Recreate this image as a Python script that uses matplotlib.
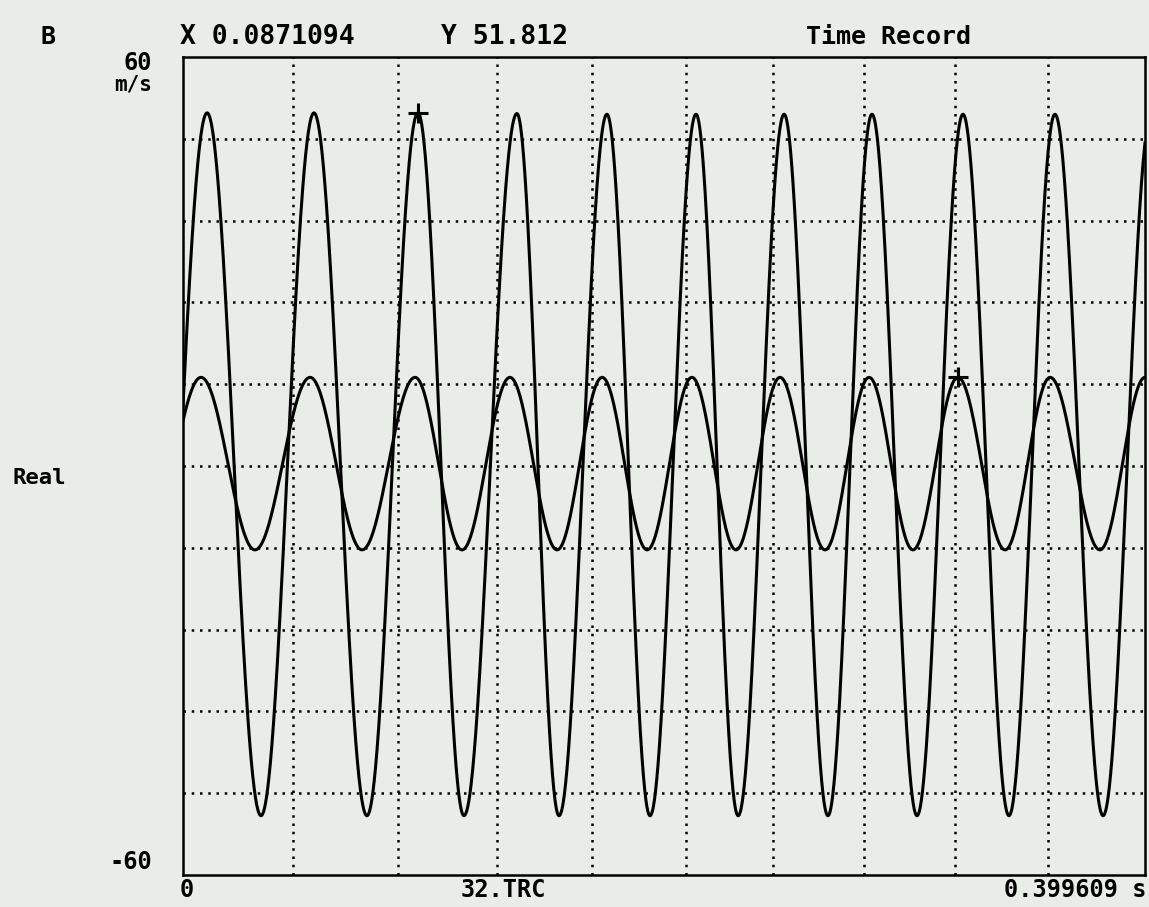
import numpy as np
import matplotlib.pyplot as plt

# -----------------------------
# Data
# -----------------------------
t_end = 0.399609          # record length (s)
y_range = 60              # full scale (m/s)
cursor_x = 0.0871094
cursor_y = 51.812

# large trace: extrema (time s, value m/s), first one is a peak
big_t = [0.0100, 0.0324, 0.0544, 0.0764, 0.0976, 0.1167, 0.1387, 0.1562,
         0.1761, 0.1940, 0.2131, 0.2306, 0.2497, 0.2679, 0.2862, 0.3049,
         0.3240, 0.3431, 0.3622, 0.3822]
big_v = [51.8, -51.3, 51.8, -51.3, 51.8, -51.3, 51.7, -51.3,
         51.6, -51.3, 51.6, -51.3, 51.6, -51.3, 51.6, -51.3,
         51.6, -51.3, 51.6, -51.3]

# small trace: extrema, first one is a peak
small_t = [0.0075, 0.0299, 0.0528, 0.0744, 0.0964, 0.1159, 0.1358, 0.1554,
           0.1741, 0.1928, 0.2114, 0.2297, 0.2480, 0.2667, 0.2850, 0.3032,
           0.3219, 0.3415, 0.3602, 0.3809, 0.3996]
small_v = [13.0, -12.3, 13.0, -12.3, 13.0, -12.3, 13.0, -12.3,
           13.0, -12.3, 13.0, -12.3, 13.0, -12.3, 13.0, -12.3,
           13.0, -12.3, 13.0, -12.3, 13.0]

# cursor marks sit on these extrema (index into the lists above)
big_mark = 4
small_mark = 16

# dotted grid (time lines drift on the photo)
grid_t = [0.0457, 0.0893, 0.1304, 0.1699, 0.2089, 0.2451, 0.2829, 0.3207, 0.3593]
grid_v = [-48, -36, -24, -12, 0, 12, 24, 36, 48]


def trace(ext_t, ext_v, t):
    # half-cosine between neighbouring extrema
    ext_t = np.asarray(ext_t)
    ext_v = np.asarray(ext_v)
    i = np.clip(np.searchsorted(ext_t, t) - 1, 0, len(ext_t) - 2)
    t0, t1 = ext_t[i], ext_t[i + 1]
    a, b = ext_v[i], ext_v[i + 1]
    frac = (t - t0) / (t1 - t0)
    return (a + b) / 2 + (a - b) / 2 * np.cos(np.pi * frac)


t = np.linspace(0, t_end, 4000)
big = trace(big_t, big_v, t)
small = trace(small_t, small_v, t)

# -----------------------------
# Plot
# -----------------------------
W, H = 1149, 907
bg = '#e9ece9'
fig = plt.figure(figsize=(W / 100, H / 100), dpi=100, facecolor=bg)
ax = fig.add_axes([183 / W, 1 - 875 / H, 962 / W, 818 / H], facecolor=bg)

for g in grid_t:
    ax.axvline(g, color='black', lw=1.8, ls=(0, (1, 2.3)), zorder=1)
for g in grid_v:
    ax.axhline(g, color='black', lw=1.8, ls=(0, (1, 2.3)), zorder=1)

ax.plot(t, big, color='black', lw=2.2, zorder=3)
ax.plot(t, small, color='black', lw=2.2, zorder=3)
ax.plot(big_t[big_mark], big_v[big_mark], marker='+', ms=14, mew=2.2,
        color='black', zorder=4)
ax.plot(small_t[small_mark], small_v[small_mark], marker='+', ms=14, mew=2.2,
        color='black', zorder=4)

ax.set_xlim(0, t_end)
ax.set_ylim(-y_range, y_range)
ax.set_xticks([])
ax.set_yticks([])
for s in ax.spines.values():
    s.set_linewidth(1.8)
    s.set_color('black')

font = dict(family='DejaVu Sans Mono', weight='bold', color='black')


def label(x, y, s, size=17, ha='left'):
    fig.text(x / W, 1 - y / H, s, ha=ha, va='center', fontsize=size, **font)


label(48, 37, 'B', ha='center', size=18)
label(180, 37, f'X {cursor_x:.7f}', size=19)
label(441, 37, f'Y {cursor_y:.3f}', size=19)
label(888, 37, 'Time Record', ha='center', size=18)
label(152, 63, f'{y_range}', ha='right')
label(152, 85, 'm/s', ha='right', size=15)
label(13, 478, 'Real', size=16)
label(152, 862, f'-{y_range}', ha='right')
label(180, 890, '0')
label(461, 890, '32.TRC')
label(1146, 890, f'{t_end} s', ha='right')

fig.savefig('out.png', dpi=100, facecolor=bg)
